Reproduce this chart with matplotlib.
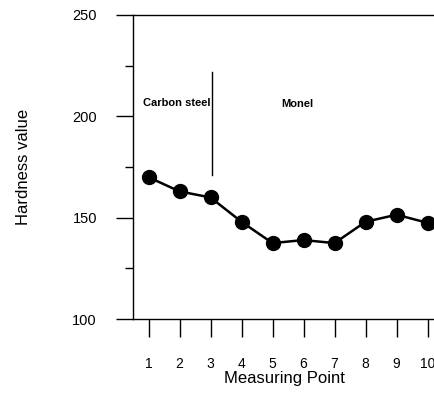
import matplotlib
matplotlib.use("Agg")
import matplotlib.pyplot as plt
from matplotlib.ticker import MultipleLocator

plt.rcParams['font.family'] = ['Liberation Sans', 'DejaVu Sans']

# data
points = [1, 2, 3, 4, 5, 6, 7, 8, 9, 10]
hardness = [170, 163, 160, 148, 137.5, 139, 137.5, 148, 151.5, 147.5]
divider_x = 3.05
divider_range = (171, 222)
labels = ["Carbon steel", "Monel"]
label_pos = [(1.9, 206.5), (5.8, 206)]

fig = plt.figure(figsize=(4.34, 3.94), dpi=100)
ax = fig.add_axes([0.3065, 0.19, 0.70, 0.772])

ax.plot(points, hardness, color='black', linewidth=1.8, marker='o',
        markersize=10, markerfacecolor='black', markeredgecolor='black')

# separator between the two materials
ax.plot([divider_x, divider_x], divider_range, color='black', linewidth=1)
for txt, (x, y) in zip(labels, label_pos):
    ax.text(x, y, txt, ha='center', va='center', fontsize=8, fontweight='bold')

ax.set_xlim(0.5, 10.3)
ax.set_ylim(100, 250)
ax.set_xticks(points)
ax.yaxis.set_major_locator(MultipleLocator(50))
ax.yaxis.set_minor_locator(MultipleLocator(25))

ax.spines['right'].set_visible(False)
for s in ['left', 'bottom', 'top']:
    ax.spines[s].set_linewidth(1)

ax.tick_params(axis='x', direction='out', length=13, width=1, pad=14, labelsize=10)
ax.tick_params(axis='y', which='major', direction='out', length=12, width=1, pad=14, labelsize=10.5)
ax.tick_params(axis='y', which='minor', direction='out', length=6, width=1)

ax.set_xlabel('Measuring Point', fontsize=12, labelpad=0)
ax.set_ylabel('Hardness value', fontsize=12, labelpad=30)

fig.savefig('out.png', dpi=100)
